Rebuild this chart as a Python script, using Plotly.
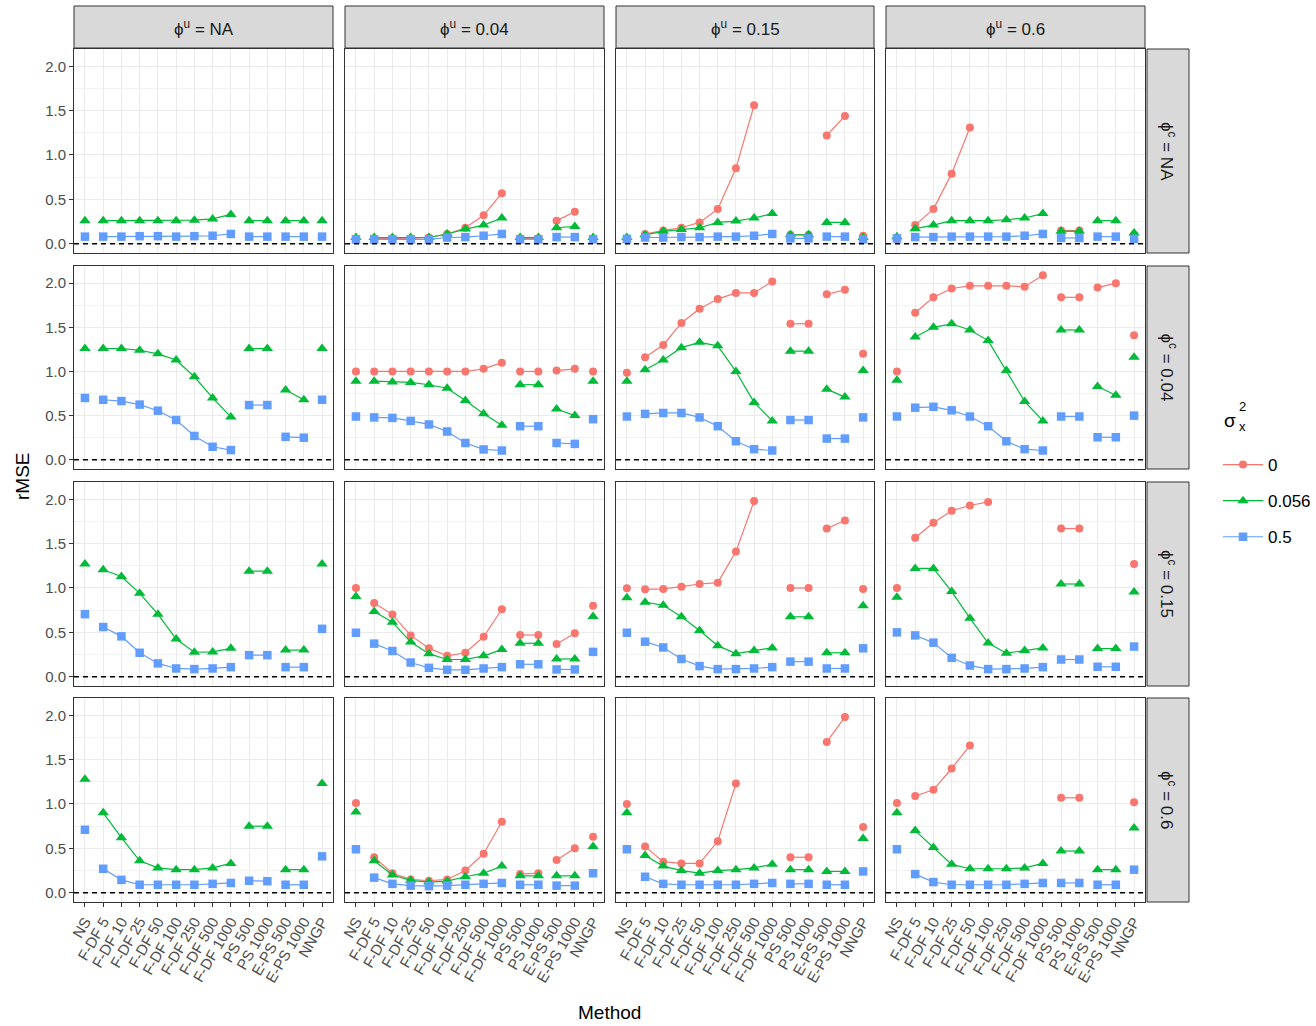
import plotly.graph_objects as go

# Methods on the x axis
methods = ["NS", "F-DF 5", "F-DF 10", "F-DF 25", "F-DF 50", "F-DF 100", "F-DF 250",
           "F-DF 500", "F-DF 1000", "PS 500", "PS 1000", "E-PS 500", "E-PS 1000", "NNGP"]

# Facet labels
phi_u_levels = ["NA", "0.04", "0.15", "0.6"]   # columns
phi_c_levels = ["NA", "0.04", "0.15", "0.6"]   # rows
sigma_levels = ["0", "0.056", "0.5"]

N = None
NONE14 = [N] * 14

# rMSE, one list per phi^u column, for each (phi^c row, sigma_x^2)
rmse_cNA_s0 = [
    NONE14,
    [0.05, 0.06, 0.06, 0.06, 0.07, 0.11, 0.18, 0.32, 0.57, 0.06, 0.06, 0.26, 0.36, 0.05],
    [0.05, 0.11, 0.15, 0.18, 0.24, 0.39, 0.85, 1.56, N, 0.10, 0.10, 1.22, 1.44, 0.09],
    [0.05, 0.21, 0.39, 0.79, 1.31, N, N, N, N, 0.15, 0.15, N, N, 0.10],
]
rmse_cNA_s1 = [
    [0.26, 0.26, 0.26, 0.26, 0.26, 0.26, 0.265, 0.28, 0.33, 0.26, 0.26, 0.26, 0.26, 0.26],
    [0.07, 0.07, 0.07, 0.07, 0.07, 0.11, 0.165, 0.21, 0.29, 0.07, 0.07, 0.18, 0.195, 0.07],
    [0.07, 0.10, 0.14, 0.16, 0.18, 0.24, 0.255, 0.29, 0.34, 0.10, 0.10, 0.24, 0.24, 0.07],
    [0.08, 0.17, 0.21, 0.26, 0.26, 0.26, 0.27, 0.29, 0.34, 0.14, 0.14, 0.26, 0.26, 0.12],
]
rmse_cNA_s2 = [
    [0.08, 0.08, 0.08, 0.085, 0.085, 0.08, 0.085, 0.09, 0.11, 0.08, 0.08, 0.08, 0.08, 0.08],
    [0.05, 0.05, 0.05, 0.05, 0.05, 0.07, 0.075, 0.09, 0.11, 0.05, 0.05, 0.075, 0.075, 0.05],
    [0.055, 0.07, 0.07, 0.075, 0.075, 0.08, 0.08, 0.09, 0.11, 0.06, 0.06, 0.08, 0.08, 0.05],
    [0.06, 0.075, 0.075, 0.08, 0.08, 0.08, 0.08, 0.09, 0.11, 0.065, 0.065, 0.08, 0.08, 0.055],
]

rmse_c004_s0 = [
    NONE14,
    [1.0, 1.0, 1.0, 1.0, 1.0, 1.0, 1.0, 1.03, 1.10, 1.0, 1.0, 1.01, 1.03, 1.0],
    [0.985, 1.16, 1.30, 1.55, 1.71, 1.82, 1.89, 1.89, 2.02, 1.54, 1.54, 1.875, 1.925, 1.20],
    [1.0, 1.665, 1.84, 1.94, 1.97, 1.97, 1.97, 1.96, 2.09, 1.84, 1.84, 1.95, 2.0, 1.41],
]
rmse_c004_s1 = [
    [1.26, 1.26, 1.26, 1.24, 1.20, 1.13, 0.94, 0.70, 0.485, 1.26, 1.26, 0.79, 0.68, 1.26],
    [0.89, 0.89, 0.88, 0.876, 0.85, 0.81, 0.67, 0.52, 0.39, 0.85, 0.85, 0.575, 0.50, 0.89],
    [0.89, 1.02, 1.13, 1.27, 1.33, 1.29, 1.0, 0.65, 0.44, 1.23, 1.23, 0.80, 0.71, 1.01],
    [0.90, 1.39, 1.50, 1.54, 1.47, 1.35, 1.01, 0.66, 0.44, 1.47, 1.47, 0.83, 0.73, 1.16],
]
rmse_c004_s2 = [
    [0.70, 0.68, 0.665, 0.625, 0.556, 0.45, 0.27, 0.147, 0.11, 0.62, 0.62, 0.26, 0.25, 0.68],
    [0.49, 0.48, 0.474, 0.44, 0.40, 0.32, 0.19, 0.117, 0.105, 0.38, 0.38, 0.19, 0.18, 0.46],
    [0.49, 0.52, 0.53, 0.53, 0.48, 0.38, 0.21, 0.12, 0.105, 0.45, 0.45, 0.24, 0.24, 0.48],
    [0.49, 0.59, 0.60, 0.56, 0.49, 0.38, 0.21, 0.12, 0.105, 0.49, 0.49, 0.255, 0.255, 0.50],
]

rmse_c015_s0 = [
    NONE14,
    [1.0, 0.83, 0.70, 0.466, 0.32, 0.235, 0.27, 0.45, 0.76, 0.47, 0.47, 0.37, 0.49, 0.80],
    [0.996, 0.985, 0.99, 1.015, 1.045, 1.06, 1.41, 1.98, N, 1.0, 1.0, 1.67, 1.76, 0.99],
    [1.0, 1.567, 1.735, 1.87, 1.93, 1.97, N, N, N, 1.67, 1.67, N, N, 1.27],
]
rmse_c015_s1 = [
    [1.27, 1.205, 1.13, 0.94, 0.705, 0.425, 0.276, 0.28, 0.32, 1.19, 1.19, 0.30, 0.30, 1.27],
    [0.905, 0.735, 0.615, 0.39, 0.26, 0.194, 0.194, 0.235, 0.306, 0.377, 0.377, 0.20, 0.20, 0.68],
    [0.89, 0.84, 0.806, 0.675, 0.52, 0.35, 0.26, 0.295, 0.325, 0.675, 0.675, 0.27, 0.27, 0.80],
    [0.895, 1.22, 1.22, 0.96, 0.66, 0.38, 0.265, 0.295, 0.325, 1.045, 1.045, 0.317, 0.317, 0.955],
]
rmse_c015_s2 = [
    [0.705, 0.56, 0.455, 0.27, 0.15, 0.093, 0.086, 0.093, 0.108, 0.243, 0.243, 0.108, 0.108, 0.54],
    [0.496, 0.373, 0.29, 0.16, 0.10, 0.078, 0.078, 0.093, 0.108, 0.14, 0.14, 0.082, 0.082, 0.28],
    [0.496, 0.395, 0.33, 0.20, 0.12, 0.086, 0.086, 0.093, 0.108, 0.17, 0.17, 0.093, 0.093, 0.32],
    [0.50, 0.466, 0.384, 0.213, 0.127, 0.086, 0.086, 0.093, 0.108, 0.194, 0.194, 0.112, 0.112, 0.34],
]

rmse_c06_s0 = [
    NONE14,
    [1.01, 0.40, 0.22, 0.15, 0.135, 0.15, 0.25, 0.44, 0.80, 0.21, 0.22, 0.37, 0.50, 0.63],
    [1.0, 0.52, 0.35, 0.33, 0.33, 0.58, 1.23, N, N, 0.40, 0.40, 1.70, 1.98, 0.74],
    [1.01, 1.09, 1.16, 1.40, 1.66, N, N, N, N, 1.07, 1.07, N, N, 1.02],
]
rmse_c06_s1 = [
    [1.28, 0.90, 0.62, 0.36, 0.28, 0.26, 0.26, 0.28, 0.33, 0.75, 0.75, 0.26, 0.26, 1.23],
    [0.91, 0.36, 0.20, 0.14, 0.12, 0.13, 0.18, 0.22, 0.30, 0.19, 0.19, 0.19, 0.19, 0.52],
    [0.90, 0.42, 0.30, 0.25, 0.22, 0.25, 0.26, 0.28, 0.32, 0.26, 0.26, 0.24, 0.24, 0.61],
    [0.90, 0.70, 0.51, 0.32, 0.27, 0.27, 0.27, 0.28, 0.33, 0.47, 0.47, 0.26, 0.26, 0.73],
]
rmse_c06_s2 = [
    [0.71, 0.27, 0.145, 0.09, 0.09, 0.09, 0.09, 0.10, 0.11, 0.135, 0.13, 0.09, 0.09, 0.41],
    [0.49, 0.17, 0.10, 0.08, 0.075, 0.08, 0.09, 0.10, 0.11, 0.09, 0.09, 0.08, 0.08, 0.22],
    [0.49, 0.18, 0.10, 0.09, 0.09, 0.09, 0.09, 0.10, 0.11, 0.10, 0.10, 0.09, 0.09, 0.24],
    [0.49, 0.21, 0.12, 0.09, 0.09, 0.09, 0.09, 0.10, 0.11, 0.11, 0.11, 0.09, 0.09, 0.26],
]

rows_data = [
    [rmse_cNA_s0, rmse_cNA_s1, rmse_cNA_s2],
    [rmse_c004_s0, rmse_c004_s1, rmse_c004_s2],
    [rmse_c015_s0, rmse_c015_s1, rmse_c015_s2],
    [rmse_c06_s0, rmse_c06_s1, rmse_c06_s2],
]

# Method groups joined by lines (NS and NNGP stand alone)
groups = [[0], [1, 2, 3, 4, 5, 6, 7, 8], [9, 10], [11, 12], [13]]

colors = ["#F8766D", "#00BA38", "#619CFF"]
symbols = ["circle", "triangle-up", "square"]
msizes = [8, 10, 8.5]

W, H = 1316, 1026
col_px = [(74, 333), (345, 604), (616, 874), (886, 1145)]
row_px = [(49, 253), (266, 469), (482, 686), (698, 902)]
YR = [-0.1045, 2.1945]

FONT = "Liberation Sans, Arial, sans-serif"
fig = go.Figure()
layout = {}
shapes = []
annotations = []

for r in range(4):
    for c in range(4):
        idx = r * 4 + c + 1
        xname = "x" if idx == 1 else f"x{idx}"
        yname = "y" if idx == 1 else f"y{idx}"
        xkey = "xaxis" if idx == 1 else f"xaxis{idx}"
        ykey = "yaxis" if idx == 1 else f"yaxis{idx}"
        x0, x1 = col_px[c]
        y0, y1 = row_px[r]
        bottom = r == 3
        left = c == 0
        layout[xkey] = dict(
            domain=[x0 / W, x1 / W], anchor=yname, range=[-0.6, 13.6],
            tickvals=list(range(14)), ticktext=methods if bottom else [""] * 14,
            showticklabels=bottom, tickangle=-60,
            ticks="outside" if bottom else "", ticklen=4, tickcolor="#333333",
            tickfont=dict(family=FONT, size=15, color="#4D4D4D"),
            showgrid=True, gridcolor="#EBEBEB", gridwidth=1.1,
            zeroline=False, showline=True, mirror=True, linecolor="#333333", linewidth=1,
            fixedrange=True, automargin=False,
        )
        layout[ykey] = dict(
            domain=[1 - y1 / H, 1 - y0 / H], anchor=xname, range=YR,
            tickvals=[0, 0.5, 1.0, 1.5, 2.0],
            ticktext=["0.0", "0.5", "1.0", "1.5", "2.0"],
            showticklabels=left, ticks="outside" if left else "", ticklen=4,
            tickcolor="#333333",
            tickfont=dict(family=FONT, size=15, color="#4D4D4D"),
            showgrid=True, gridcolor="#EBEBEB", gridwidth=1.1,
            minor=dict(tickvals=[0.25, 0.75, 1.25, 1.75], showgrid=True,
                       gridcolor="#F2F2F2", gridwidth=0.6, ticks=""),
            zeroline=False, showline=True, mirror=True, linecolor="#333333", linewidth=1,
            fixedrange=True, automargin=False,
        )
        # dashed reference line at zero
        shapes.append(dict(type="line", xref=f"{xname} domain", yref=yname,
                           x0=0, x1=1, y0=0, y1=0,
                           line=dict(color="black", width=1.3, dash="5px,4px")))
        for s in range(3):
            vals = rows_data[r][s][c]
            xs, ys = [], []
            for g in groups:
                for i in g:
                    xs.append(i)
                    ys.append(vals[i])
                xs.append(None)
                ys.append(None)
            fig.add_trace(go.Scatter(
                x=xs, y=ys, xaxis=xname, yaxis=yname, mode="lines+markers",
                name=sigma_levels[s], legendgroup=sigma_levels[s],
                showlegend=(idx == 1),
                line=dict(color=colors[s], width=1.2),
                marker=dict(color=colors[s], symbol=symbols[s], size=msizes[s]),
                connectgaps=False, hoverinfo="skip",
            ))

# top strips (phi^u)
for c, lab in enumerate(phi_u_levels):
    x0, x1 = col_px[c]
    shapes.append(dict(type="rect", xref="paper", yref="paper",
                       x0=x0 / W, x1=x1 / W, y0=1 - 48 / H, y1=1 - 6 / H,
                       fillcolor="#D9D9D9", line=dict(color="#333333", width=1), layer="below"))
    annotations.append(dict(xref="paper", yref="paper", x=(x0 + x1) / 2 / W, y=1 - 28 / H,
                            text=f"ϕ<sup>u</sup> = {lab}", showarrow=False,
                            font=dict(family=FONT, size=17, color="#1A1A1A"),
                            xanchor="center", yanchor="middle"))

# right strips (phi^c)
for r, lab in enumerate(phi_c_levels):
    y0, y1 = row_px[r]
    shapes.append(dict(type="rect", xref="paper", yref="paper",
                       x0=1147 / W, x1=1189 / W, y0=1 - y1 / H, y1=1 - y0 / H,
                       fillcolor="#D9D9D9", line=dict(color="#333333", width=1), layer="below"))
    annotations.append(dict(xref="paper", yref="paper", x=1168 / W, y=1 - (y0 + y1) / 2 / H,
                            text=f"ϕ<sup>c</sup> = {lab}", showarrow=False, textangle=90,
                            font=dict(family=FONT, size=17, color="#1A1A1A"),
                            xanchor="center", yanchor="middle"))

# axis titles
annotations.append(dict(xref="paper", yref="paper", x=22 / W, y=1 - 476 / H, text="rMSE",
                        showarrow=False, textangle=-90,
                        font=dict(family=FONT, size=19, color="black"),
                        xanchor="center", yanchor="middle"))
annotations.append(dict(xref="paper", yref="paper", x=609 / W, y=1 - 1012 / H, text="Method",
                        showarrow=False, font=dict(family=FONT, size=19, color="black"),
                        xanchor="center", yanchor="middle"))

# legend title: sigma with stacked superscript 2 and subscript x
annotations.append(dict(xref="paper", yref="paper", x=1230 / W, y=1 - 420 / H, text="σ",
                        showarrow=False, font=dict(family=FONT, size=19, color="black"),
                        xanchor="center", yanchor="middle"))
annotations.append(dict(xref="paper", yref="paper", x=1242 / W, y=1 - 407 / H, text="2",
                        showarrow=False, font=dict(family=FONT, size=13, color="black"),
                        xanchor="center", yanchor="middle"))
annotations.append(dict(xref="paper", yref="paper", x=1242 / W, y=1 - 426 / H, text="x",
                        showarrow=False, font=dict(family=FONT, size=13, color="black"),
                        xanchor="center", yanchor="middle"))

fig.update_layout(
    width=W, height=H, margin=dict(l=0, r=0, t=0, b=0, autoexpand=False),
    paper_bgcolor="white", plot_bgcolor="white",
    font=dict(family=FONT),
    shapes=shapes, annotations=annotations,
    legend=dict(
        x=1218 / W, y=1 - 447 / H, xanchor="left", yanchor="top",
        font=dict(family=FONT, size=17, color="black"),
        tracegroupgap=11, traceorder="grouped", itemwidth=40,
        bgcolor="rgba(0,0,0,0)",
    ),
    **layout,
)

fig.write_html("out.html")
